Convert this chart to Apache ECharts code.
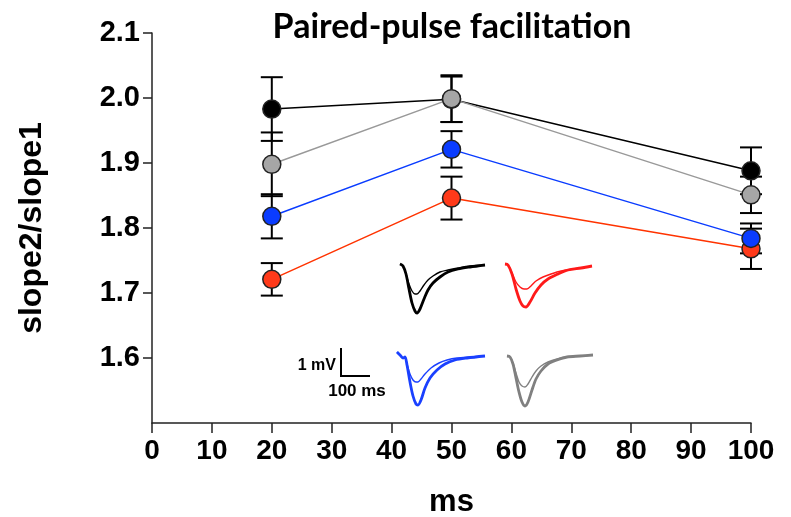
<!DOCTYPE html>
<html>
<head>
<meta charset="utf-8">
<script src="https://cdn.jsdelivr.net/npm/echarts@6/dist/echarts.min.js"></script>
<style>
  html, body { margin: 0; padding: 0; background: #fff; }
  #chart { width: 791px; height: 517px; }
</style>
</head>
<body>
<div id="chart"></div>
<script>
// intervals between pulses (ms)
const intervals = [20, 50, 100]
const yTickValues = [1.6, 1.7, 1.8, 1.9, 2.0, 2.1]

// mean and SEM of slope2/slope1 for each group
const blackMean = [1.983, 1.998, 1.888]
const blackSem = [0.049, 0.035, 0.036]
const grayMean = [1.898, 1.999, 1.851]
const graySem = [0.049, 0.036, 0.028]
const blueMean = [1.818, 1.921, 1.784]
const blueSem = [0.034, 0.028, 0.023]
const redMean = [1.721, 1.846, 1.768]
const redSem = [0.025, 0.033, 0.031]

// example traces: [time, depth] pairs (depth grows downward)
const blackDeep = [[2,2],[5,4],[8,12],[11,27],[14,41],[17,49],[19,51],[22,47],[26,37],[30,28],[35,21],[42,15],[50,10],[60,7],[72,5],[87,3]]
const blackShallow = [[2,2],[5,4],[8,12],[11,22],[14,29],[17,32],[19,32],[22,29],[26,23],[30,18],[35,14],[42,10],[50,8],[60,6],[72,4],[87,3]]
const redDeep = [[2,2],[5,3],[9,12],[13,27],[17,39],[20,44],[23,45],[27,40],[32,31],[38,23],[45,17],[55,12],[65,8],[78,6],[89,4]]
const redShallow = [[2,2],[5,3],[9,11],[13,20],[17,25],[21,27],[24,27],[28,24],[33,19],[40,15],[48,12],[58,9],[70,7],[89,4]]
const blueDeep = [[2,2],[5,5],[8,8],[10,7],[12,15],[15,32],[18,46],[21,54],[23,55],[26,50],[30,38],[35,28],[42,20],[50,14],[60,10],[72,8],[90,6]]
const blueShallow = [[2,2],[5,5],[8,8],[10,7],[12,14],[15,24],[18,30],[21,32],[23,32],[26,29],[30,24],[36,18],[44,13],[52,10],[62,8],[75,7],[90,6]]
const grayDeep = [[2,4],[5,5],[8,12],[11,26],[14,40],[17,50],[20,54],[23,50],[27,38],[31,27],[36,19],[43,12],[52,8],[62,5],[75,4],[88,3]]
const grayShallow = [[2,4],[5,5],[8,11],[11,21],[14,30],[17,34],[20,35],[23,32],[27,25],[31,19],[36,14],[43,10],[52,7],[62,5],[75,4],[88,3]]

const chart = echarts.init(document.getElementById('chart'))

// error bar drawn with a custom series
function errorSeries (mean, sem) {
  return {
    type: 'custom',
    xAxisIndex: 0,
    yAxisIndex: 0,
    z: 1,
    silent: true,
    data: intervals.map((x, i) => [x, mean[i], sem[i]]),
    renderItem: function (params, api) {
      const x = api.value(0)
      const top = api.coord([x, api.value(1) + api.value(2)])
      const bot = api.coord([x, api.value(1) - api.value(2)])
      const w = 11
      const style = { stroke: '#000', lineWidth: 2 }
      return {
        type: 'group',
        children: [
          { type: 'line', shape: { x1: top[0], y1: top[1], x2: bot[0], y2: bot[1] }, style: style },
          { type: 'line', shape: { x1: top[0] - w, y1: top[1], x2: top[0] + w, y2: top[1] }, style: style },
          { type: 'line', shape: { x1: bot[0] - w, y1: bot[1], x2: bot[0] + w, y2: bot[1] }, style: style }
        ]
      }
    }
  }
}

function meanSeries (mean, lineColor, fill, z) {
  return {
    type: 'line',
    xAxisIndex: 0,
    yAxisIndex: 0,
    z: z,
    data: intervals.map((x, i) => [x, mean[i]]),
    symbol: 'circle',
    symbolSize: 18,
    lineStyle: { color: lineColor, width: 1.5 },
    itemStyle: { color: fill, borderColor: '#222', borderWidth: 1.5 }
  }
}

// small inset grids for traces
const insets = [
  { left: 398, top: 262, deep: blackDeep, shallow: blackShallow, color: '#000000' },
  { left: 503, top: 262, deep: redDeep, shallow: redShallow, color: '#ff1a1a' },
  { left: 395, top: 350, deep: blueDeep, shallow: blueShallow, color: '#1a40ff' },
  { left: 505, top: 352, deep: grayDeep, shallow: grayShallow, color: '#808080' }
]

const grids = [{ left: 152, right: 40, top: 33, bottom: 94, containLabel: false, outerBoundsMode: 'none' }]
const xAxes = [{
  type: 'value',
  gridIndex: 0,
  min: 0,
  max: 100,
  interval: 10,
  name: 'ms',
  nameLocation: 'middle',
  nameGap: 64,
  nameTextStyle: { fontFamily: 'Liberation Sans', fontWeight: 'bold', fontSize: 31, color: '#000' },
  axisLine: { show: true, onZero: false, lineStyle: { color: '#222', width: 1.5 } },
  axisTick: { show: true, inside: false, length: 10, lineStyle: { color: '#222', width: 1.5 } },
  axisLabel: { margin: 14, fontFamily: 'Liberation Sans', fontWeight: 'bold', fontSize: 28, color: '#000' },
  splitLine: { show: false }
}]
const yAxes = [{
  type: 'value',
  gridIndex: 0,
  min: 1.5,
  max: 2.1,
  interval: 0.1,
  name: 'slope2/slope1',
  nameLocation: 'middle',
  nameGap: 104,
  nameRotate: 90,
  nameTextStyle: { fontFamily: 'Liberation Sans', fontWeight: 'bold', fontSize: 32, color: '#000' },
  axisLine: { show: true, lineStyle: { color: '#222', width: 1.5 } },
  axisTick: { show: true, length: 9, customValues: yTickValues, lineStyle: { color: '#222', width: 1.5 } },
  axisLabel: {
    margin: 12,
    customValues: yTickValues,
    formatter: v => v.toFixed(1),
    fontFamily: 'Liberation Sans', fontWeight: 'bold', fontSize: 29, color: '#000'
  },
  splitLine: { show: false }
}]
const traceSeries = []
insets.forEach((p, i) => {
  const gi = i + 1
  grids.push({ left: p.left, top: p.top, width: 92, height: 58, outerBoundsMode: 'none' })
  xAxes.push({ type: 'value', gridIndex: gi, min: 0, max: 92, show: false })
  yAxes.push({ type: 'value', gridIndex: gi, min: 0, max: 58, inverse: true, show: false })
  traceSeries.push({
    type: 'line', xAxisIndex: gi, yAxisIndex: gi, data: p.shallow, smooth: 0.3,
    symbol: 'none', silent: true, lineStyle: { color: p.color, width: 1.4 }
  })
  traceSeries.push({
    type: 'line', xAxisIndex: gi, yAxisIndex: gi, data: p.deep, smooth: 0.3,
    symbol: 'none', silent: true, lineStyle: { color: p.color, width: 2.8 }
  })
})

chart.setOption({
  animation: false,
  title: {
    text: 'Paired-pulse facilitation',
    left: 447,
    top: 5,
    textAlign: 'center',
    textStyle: { fontFamily: 'Lato', fontWeight: 'bold', fontSize: 34, color: '#000' }
  },
  grid: grids,
  xAxis: xAxes,
  yAxis: yAxes,
  // scale bar for traces
  graphic: [
    { type: 'line', shape: { x1: 341, y1: 348, x2: 341, y2: 376 }, style: { stroke: '#000', lineWidth: 2 } },
    { type: 'line', shape: { x1: 340, y1: 376, x2: 370, y2: 376 }, style: { stroke: '#000', lineWidth: 2 } },
    { type: 'text', x: 336, y: 366, style: { text: '1 mV', align: 'right', verticalAlign: 'middle', font: 'bold 16px "Liberation Sans"', fill: '#000' } },
    { type: 'text', x: 357, y: 391, style: { text: '100 ms', align: 'center', verticalAlign: 'middle', font: 'bold 17px "Liberation Sans"', fill: '#000' } }
  ],
  series: [
    errorSeries(blackMean, blackSem),
    errorSeries(grayMean, graySem),
    errorSeries(blueMean, blueSem),
    errorSeries(redMean, redSem),
    meanSeries(redMean, '#ff3300', '#ff3a1a', 3),
    meanSeries(blueMean, '#0a3cff', '#0a3cff', 4),
    meanSeries(blackMean, '#000000', '#000000', 5),
    meanSeries(grayMean, '#999999', '#a6a6a6', 6)
  ].concat(traceSeries)
})
</script>
</body>
</html>
